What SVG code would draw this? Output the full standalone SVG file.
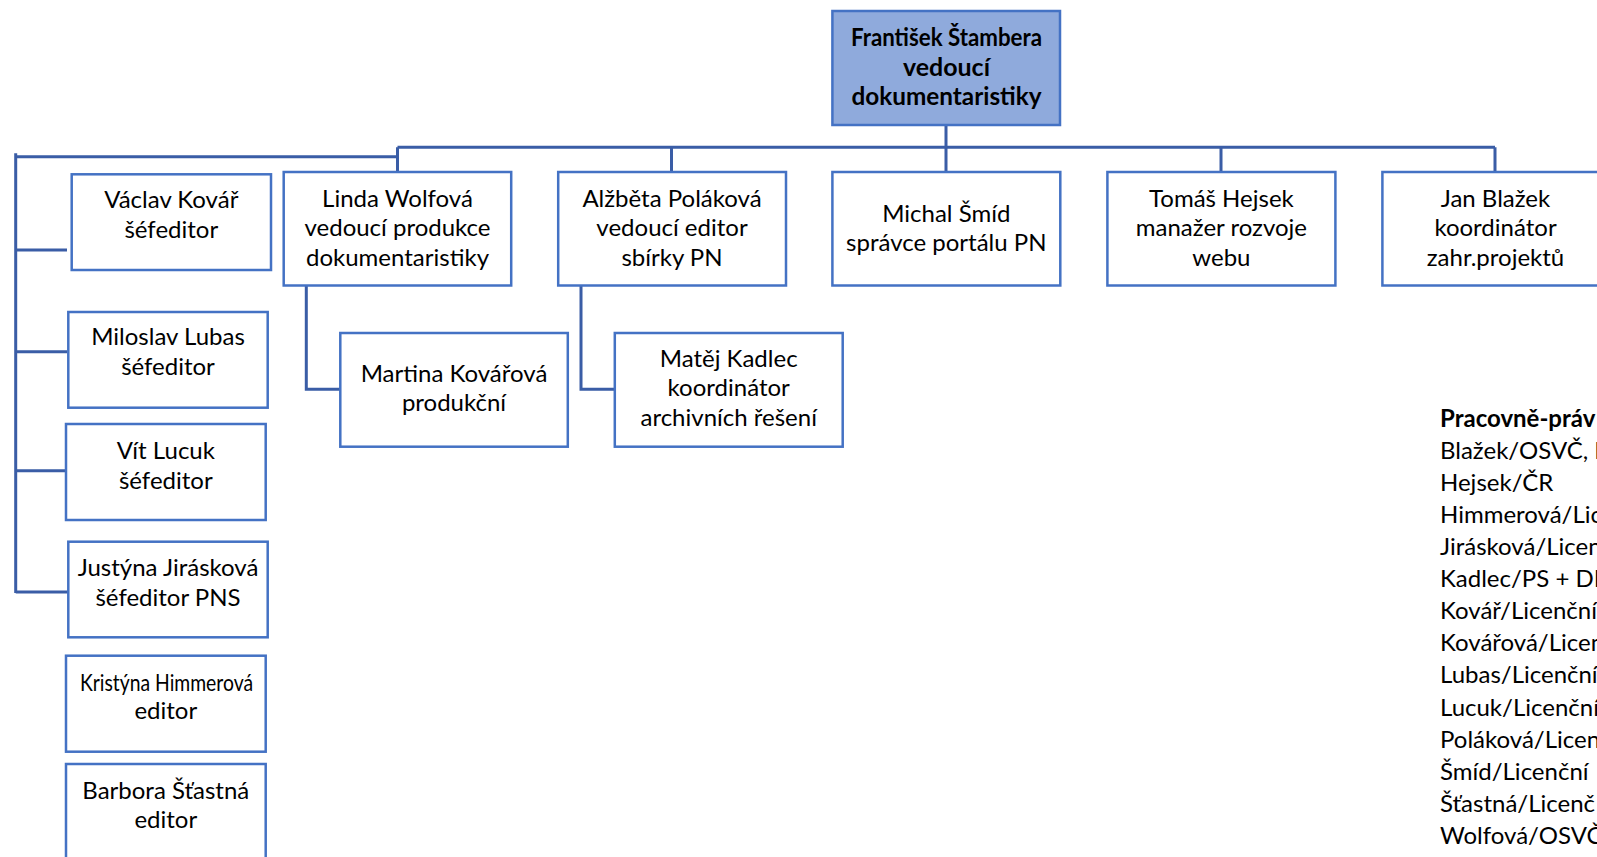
<svg xmlns="http://www.w3.org/2000/svg" width="1597" height="857" viewBox="0 0 1597 857">
<style>
.box{fill:#ffffff;stroke:#4472C4;stroke-width:2.5}
.top{fill:#8FAADC;stroke:#4472C4;stroke-width:2.5}
.ln{fill:none;stroke:#3A5DA6;stroke-width:3}
text{font-family:Lato,"Liberation Sans","Noto Sans",sans-serif;font-size:24px;fill:#000}
.c{text-anchor:middle}
.b{font-weight:bold}
</style>
<rect width="1597" height="857" fill="#ffffff"/>
<g id="connectors">
<path class="ln" d="M946 125V147.3M397.5 147.3H1495M397.5 147.3V172M671.5 147.3V172M946 147.3V172M1221 147.3V172M1495 147.3V172"/>
<path class="ln" d="M15.7 153.3V593M15.7 156.7H397.5M15.7 250H67M15.7 351.7H67M15.7 470.7H66M15.7 592H68"/>
<path class="ln" d="M306.3 285.5V389.3H340.3M581 285.5V389.3H614.8"/>
</g>
<g id="n-stambera">
<rect class="top" x="832.4" y="11" width="227.6" height="114"/>
<text class="c b" x="946.5" y="46" textLength="191" lengthAdjust="spacingAndGlyphs">František Štambera</text>
<text class="c b" x="946.5" y="75.5" textLength="87" lengthAdjust="spacingAndGlyphs">vedoucí</text>
<text class="c b" x="946.5" y="105" textLength="190" lengthAdjust="spacingAndGlyphs">dokumentaristiky</text>
</g>
<g id="n-wolfova">
<rect class="box" x="283.7" y="172" width="227.5" height="113.5"/>
<text class="c" x="397.5" y="206.7">Linda Wolfová</text>
<text class="c" x="397.5" y="236.2">vedoucí produkce</text>
<text class="c" x="397.5" y="265.7">dokumentaristiky</text>
</g>
<g id="n-polakova">
<rect class="box" x="558.2" y="172" width="227.8" height="113.5"/>
<text class="c" x="672" y="206.7">Alžběta Poláková</text>
<text class="c" x="672" y="236.2">vedoucí editor</text>
<text class="c" x="672" y="265.7">sbírky PN</text>
</g>
<g id="n-smid">
<rect class="box" x="832.4" y="172" width="227.9" height="113.5"/>
<text class="c" x="946.3" y="221.5">Michal Šmíd</text>
<text class="c" x="946.3" y="251">správce portálu PN</text>
</g>
<g id="n-hejsek">
<rect class="box" x="1107.4" y="172" width="228" height="113.5"/>
<text class="c" x="1221.4" y="206.7">Tomáš Hejsek</text>
<text class="c" x="1221.4" y="236.2">manažer rozvoje</text>
<text class="c" x="1221.4" y="265.7">webu</text>
</g>
<g id="n-blazek">
<rect class="box" x="1382.4" y="172" width="228" height="113.5"/>
<text class="c" x="1495.5" y="206.7">Jan Blažek</text>
<text class="c" x="1495.5" y="236.2">koordinátor</text>
<text class="c" x="1495.5" y="265.7">zahr.projektů</text>
</g>
<g id="n-kovarova">
<rect class="box" x="340.3" y="333" width="227.5" height="113.7"/>
<text class="c" x="454" y="382">Martina Kovářová</text>
<text class="c" x="454" y="411">produkční</text>
</g>
<g id="n-kadlec">
<rect class="box" x="614.8" y="333" width="227.9" height="113.7"/>
<text class="c" x="728.7" y="366.5">Matěj Kadlec</text>
<text class="c" x="728.7" y="396">koordinátor</text>
<text class="c" x="728.7" y="425.5">archivních řešení</text>
</g>
<g id="n-kovar">
<rect class="box" x="71.7" y="174.3" width="199.3" height="95.7"/>
<text class="c" x="171.3" y="208.3">Václav Kovář</text>
<text class="c" x="171.3" y="237.8">šéfeditor</text>
</g>
<g id="n-lubas">
<rect class="box" x="68.3" y="312" width="199.4" height="95.7"/>
<text class="c" x="168" y="345">Miloslav Lubas</text>
<text class="c" x="168" y="374.5">šéfeditor</text>
</g>
<g id="n-lucuk">
<rect class="box" x="66" y="424" width="199.7" height="96"/>
<text class="c" x="165.8" y="459.3">Vít Lucuk</text>
<text class="c" x="165.8" y="488.8">šéfeditor</text>
</g>
<g id="n-jiraskova">
<rect class="box" x="68.3" y="541.7" width="199.4" height="95.6"/>
<text class="c" x="168" y="576">Justýna Jirásková</text>
<text class="c" x="168" y="605.5">šéfeditor PNS</text>
</g>
<g id="n-himmerova">
<rect class="box" x="66" y="655.7" width="199.7" height="96"/>
<text class="c" x="166.5" y="691" textLength="173" lengthAdjust="spacingAndGlyphs">Kristýna Himmerová</text>
<text class="c" x="165.8" y="719">editor</text>
</g>
<g id="n-stastna">
<rect class="box" x="66" y="764" width="199.7" height="100"/>
<text class="c" x="165.8" y="798.5">Barbora Šťastná</text>
<text class="c" x="165.8" y="827.5">editor</text>
</g>
<g id="legend">
<text class="b" x="1440" y="427">Pracovně-práv</text>
<text x="1440" y="459">Blažek/OSVČ, D</text>
<text x="1440" y="491.1">Hejsek/ČR</text>
<text x="1440" y="523.2">Himmerová/Lic</text>
<text x="1440" y="555.2">Jirásková/Licen</text>
<text x="1440" y="587.3">Kadlec/PS + DP</text>
<text x="1440" y="619.3">Kovář/Licenční</text>
<text x="1440" y="651.4">Kovářová/Licen</text>
<text x="1440" y="683.4">Lubas/Licenční</text>
<text x="1440" y="715.5">Lucuk/Licenční</text>
<text x="1440" y="747.5">Poláková/Licen</text>
<text x="1440" y="779.6">Šmíd/Licenční</text>
<text x="1440" y="811.6">Šťastná/Licenč</text>
<text x="1440" y="843.7">Wolfová/OSVČ</text>
</g>
</svg>
